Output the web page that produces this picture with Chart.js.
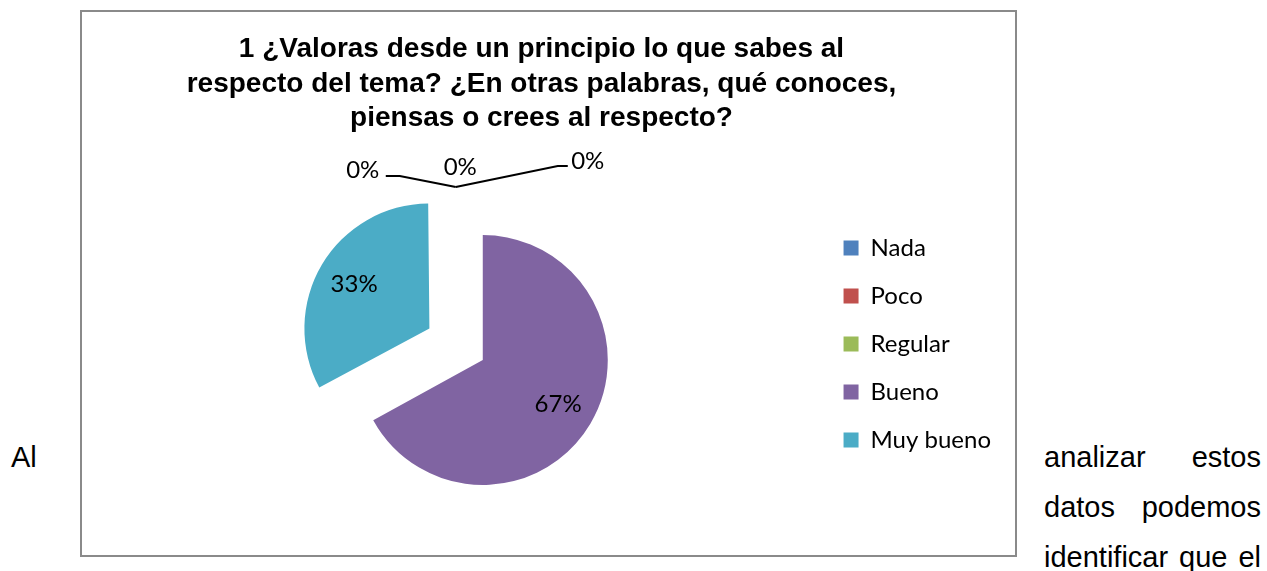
<!DOCTYPE html>
<html>
<head>
<meta charset="utf-8">
<script src="https://cdn.jsdelivr.net/npm/chart.js@4/dist/chart.umd.min.js"></script>
<style>
html,body{margin:0;padding:0;background:#fff;width:1267px;height:571px;overflow:hidden;position:relative;}
#frame{position:absolute;left:80px;top:10px;width:933px;height:543px;border:2px solid #8a8a8a;}
#c{display:block;}
.txt{position:absolute;font-family:"Liberation Sans",Arial,sans-serif;font-size:29px;color:#000;line-height:29px;white-space:nowrap;}
.j{display:flex;justify-content:space-between;left:1044px;width:217px;}
</style>
</head>
<body>
<div id="frame"><canvas id="c" width="933" height="543"></canvas></div>
<div class="txt" style="left:11px;top:443px;">Al</div>
<div class="txt j" style="top:443px;"><span>analizar</span><span>estos</span></div>
<div class="txt j" style="top:493px;"><span>datos</span><span>podemos</span></div>
<div class="txt j" style="top:543px;"><span>identificar</span><span>que</span><span>el</span></div>
<script>
// ---- data ----
const categories = ['Nada', 'Poco', 'Regular', 'Bueno', 'Muy bueno'];
const values = [0, 0, 0, 67, 33];
const colors = ['#4F81BD', '#C0504D', '#9BBB59', '#8064A2', '#4BACC6'];
const explode = [0, 0, 0, 0, 248];
const titleLines = [
  '1 ¿Valoras desde un principio lo que sabes al',
  'respecto del tema? ¿En otras palabras, qué conoces,',
  'piensas o crees al respecto?'
];

// positions of the zero-value labels, relative to the pie centre (in radius units)
const zeroLabelPos = [[-0.96, -1.52], [-0.18, -1.545], [0.84, -1.59]];
const leaderLines = [
  [[-0.776, -1.472], [-0.664, -1.472], [-0.216, -1.384]],
  null,
  [[0.68, -1.552], [0.60, -1.552], [-0.216, -1.384]]
];

const labelFont = "24px Lato, 'Open Sans', sans-serif";

// keep exploded slices at the same radius as the others
const keepRadius = {
  id: 'keepRadius',
  afterDatasetUpdate(chart, args) {
    const meta = chart.getDatasetMeta(args.index);
    meta.data.forEach((arc, i) => {
      const off = (explode[i] || 0) / 4;
      if (off > 0) {
        const fix = 1 - Math.sin(Math.min(Math.PI, arc.circumference || 0));
        arc.outerRadius = arc.outerRadius - off * fix;
      }
    });
  }
};

const pctLabels = {
  id: 'pctLabels',
  afterDatasetsDraw(chart) {
    const meta = chart.getDatasetMeta(0);
    const ds = chart.data.datasets[0].data;
    const total = ds.reduce((a, b) => a + b, 0);
    const ctx = chart.ctx;
    ctx.save();
    ctx.font = labelFont;
    ctx.fillStyle = '#000';
    ctx.textAlign = 'center';
    ctx.textBaseline = 'middle';
    const base = meta.data[3];
    const cx0 = base.x, cy0 = base.y, R = base.outerRadius;
    let zi = 0;
    meta.data.forEach((arc, i) => {
      const v = ds[i];
      const pct = Math.round(v / total * 100) + '%';
      if (v > 0) {
        const off = (explode[i] || 0) / 4;
        const mid = (arc.startAngle + arc.endAngle) / 2;
        const cx = arc.x + Math.cos(mid) * off;
        const cy = arc.y + Math.sin(mid) * off;
        ctx.fillText(pct, cx + Math.cos(mid) * R * 0.7, cy + Math.sin(mid) * R * 0.7);
      } else {
        const p = zeroLabelPos[zi];
        ctx.fillText(pct, cx0 + p[0] * R, cy0 + p[1] * R);
        const ll = leaderLines[zi];
        if (ll) {
          ctx.beginPath();
          ctx.lineWidth = 2;
          ctx.strokeStyle = '#000';
          ll.forEach((q, k) => {
            const X = cx0 + q[0] * R, Y = cy0 + q[1] * R;
            if (k === 0) ctx.moveTo(X, Y); else ctx.lineTo(X, Y);
          });
          ctx.stroke();
        }
        zi++;
      }
    });
    ctx.restore();
  }
};

new Chart(document.getElementById('c'), {
  type: 'pie',
  data: {
    labels: categories,
    datasets: [{
      data: values,
      backgroundColor: colors,
      borderWidth: 0,
      offset: explode,
      radius: 125,
      clip: false
    }]
  },
  options: {
    responsive: false,
    animation: false,
    events: [],
    cutout: '0%',
    layout: { padding: { left: 0, right: 14, top: 0, bottom: 79 } },
    plugins: {
      tooltip: { enabled: false },
      title: {
        display: true,
        text: titleLines,
        color: '#000',
        font: { family: "'Liberation Sans', Arial, sans-serif", size: 28, weight: 'bold', lineHeight: '34.5px' },
        padding: { top: 20.5, bottom: 108 }
      },
      subtitle: {
        display: true,
        position: 'left',
        text: '',
        padding: 0,
        font: { size: 12, lineHeight: '64px' }
      },
      legend: {
        position: 'right',
        align: 'end',
        labels: {
          boxWidth: 15,
          boxHeight: 15,
          padding: 24,
          color: '#000',
          font: { family: "Lato, 'Open Sans', sans-serif", size: 24 }
        }
      }
    }
  },
  plugins: [keepRadius, pctLabels]
});
</script>
</body>
</html>
